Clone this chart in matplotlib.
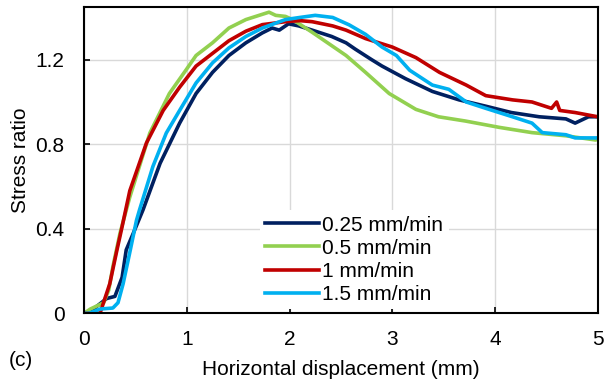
import matplotlib
matplotlib.use('Agg')
import matplotlib.pyplot as plt

plt.rcParams['font.family'] = ['Liberation Sans', 'DejaVu Sans']

# Horizontal displacement (mm) / stress ratio
x_025 = [0, 0.09, 0.22, 0.30, 0.37, 0.41, 0.48, 0.574, 0.74, 0.93, 1.09, 1.25,
         1.41, 1.575, 1.735, 1.83, 1.90, 1.99, 2.09, 2.22, 2.41, 2.55, 2.64,
         2.80, 2.90, 3.13, 3.39, 3.65, 3.91, 4.16, 4.43, 4.69, 4.78, 4.91, 5.0]
y_025 = [0, 0.02, 0.07, 0.08, 0.17, 0.30, 0.38, 0.49, 0.71, 0.90, 1.04, 1.14,
         1.22, 1.28, 1.327, 1.35, 1.34, 1.37, 1.36, 1.34, 1.31, 1.28, 1.25,
         1.20, 1.17, 1.11, 1.05, 1.01, 0.98, 0.95, 0.93, 0.92, 0.90, 0.93, 0.93]

x_05 = [0, 0.06, 0.19, 0.24, 0.28, 0.35, 0.445, 0.64, 0.83, 0.99, 1.09, 1.25,
        1.41, 1.575, 1.80, 1.865, 1.96, 2.03, 2.22, 2.55, 2.74, 2.97, 3.23,
        3.45, 3.71, 4.04, 4.36, 4.69, 4.98, 5.0]
y_05 = [0, 0.02, 0.05, 0.11, 0.22, 0.38, 0.55, 0.853, 1.04, 1.15, 1.22, 1.28,
        1.35, 1.39, 1.425, 1.41, 1.405, 1.39, 1.33, 1.22, 1.14, 1.04, 0.965,
        0.93, 0.91, 0.88, 0.855, 0.84, 0.82, 0.83]

x_1 = [0, 0.155, 0.25, 0.32, 0.37, 0.445, 0.607, 0.77, 0.93, 1.09, 1.25, 1.41,
       1.575, 1.735, 1.96, 2.10, 2.22, 2.42, 2.55, 2.74, 3.0, 3.23, 3.46, 3.72,
       3.91, 4.17, 4.36, 4.55, 4.60, 4.63, 4.78, 5.0]
y_1 = [0, 0, 0.14, 0.30, 0.41, 0.58, 0.806, 0.96, 1.07, 1.17, 1.23, 1.29,
       1.335, 1.366, 1.38, 1.385, 1.38, 1.36, 1.34, 1.30, 1.26, 1.21, 1.14,
       1.08, 1.03, 1.01, 1.0, 0.97, 1.0, 0.96, 0.95, 0.93]

x_15 = [0, 0.05, 0.155, 0.28, 0.33, 0.38, 0.45, 0.51, 0.54, 0.67, 0.80, 0.93,
        1.09, 1.25, 1.41, 1.575, 1.735, 1.96, 2.10, 2.25, 2.42, 2.58, 2.74,
        2.90, 3.04, 3.17, 3.39, 3.55, 3.72, 3.91, 4.17, 4.36, 4.46, 4.69,
        4.78, 5.0]
y_15 = [0, 0, 0.02, 0.025, 0.05, 0.14, 0.30, 0.44, 0.49, 0.695, 0.853, 0.96,
        1.09, 1.185, 1.256, 1.31, 1.35, 1.39, 1.40, 1.41, 1.40, 1.365, 1.32,
        1.26, 1.22, 1.15, 1.08, 1.06, 1.0, 0.97, 0.93, 0.90, 0.855, 0.845,
        0.83, 0.83]

fig = plt.figure(figsize=(6.05, 3.83), dpi=100)
ax = fig.add_axes([0.139, 0.182, 0.849, 0.800])

ax.plot(x_025, y_025, color='#002060', lw=2.6, label='0.25 mm/min')
ax.plot(x_05, y_05, color='#92D050', lw=2.6, label='0.5 mm/min')
ax.plot(x_1, y_1, color='#C00000', lw=2.6, label='1 mm/min')
ax.plot(x_15, y_15, color='#00B0F0', lw=2.6, label='1.5 mm/min')

ax.set_xlim(0, 5)
ax.set_ylim(0, 1.45)
ax.set_xticks([0, 1, 2, 3, 4, 5])
ax.set_yticks([0, 0.4, 0.8, 1.2])
ax.set_yticklabels(['0', '0.4', '0.8', '1.2'])
ax.grid(True, color='#D9D9D9', lw=1)
ax.set_axisbelow(True)
ax.tick_params(direction='in', length=4, width=1.2, labelsize=15)
ax.tick_params(axis='x', pad=12)
ax.tick_params(axis='y', pad=14)
for s in ax.spines.values():
    s.set_linewidth(1.5)
    s.set_color('black')

ax.set_xlabel('Horizontal displacement (mm)', fontsize=15, labelpad=8)
ax.set_ylabel('Stress ratio', fontsize=15, labelpad=4)

leg = ax.legend(loc='upper left', bbox_to_anchor=(0.322, 0.37), fontsize=15,
                frameon=True, fancybox=False, edgecolor='none', framealpha=1,
                handlelength=2.6, handletextpad=0.15, labelspacing=0.2,
                borderpad=0.25)

fig.text(0.015, 0.045, '(c)', fontsize=15)

fig.savefig('out.png', dpi=100)
